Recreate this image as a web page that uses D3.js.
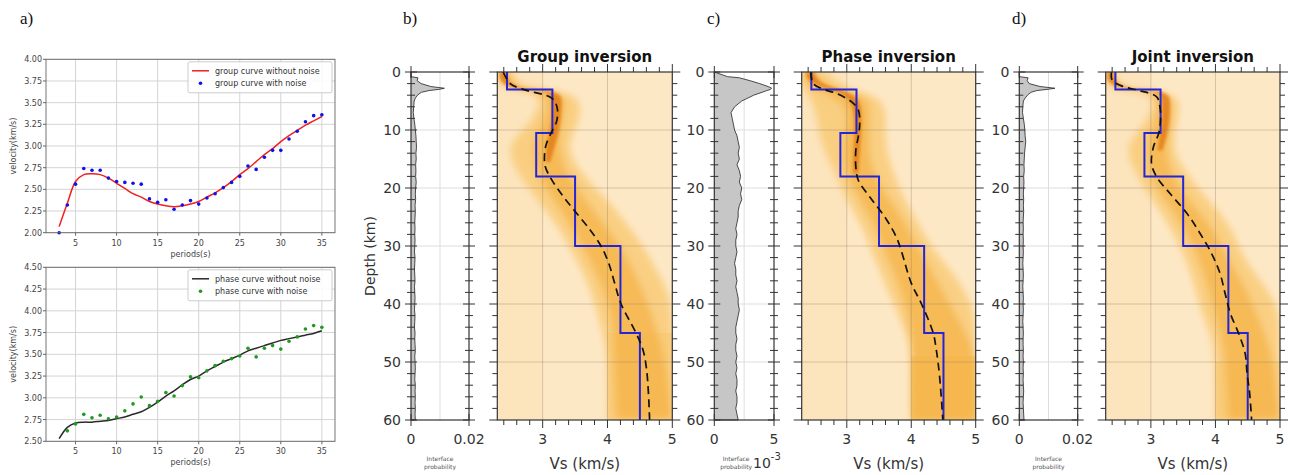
<!DOCTYPE html>
<html>
<head>
<meta charset="utf-8">
<script src="https://cdn.jsdelivr.net/npm/d3@7"></script>
<style>
  body { margin: 0; background: #fff; }
  svg { display: block; font-family: "DejaVu Sans", sans-serif; }
</style>
</head>
<body>
<svg id="chart" width="1296" height="475"></svg>
<script>
// ---- a) dispersion curves ----
const periods = [3,4,5,6,7,8,9,10,11,12,13,14,15,16,17,18,19,20,21,22,23,24,25,26,27,28,29,30,31,32,33,34,35];
const groupClean = [2.07,2.34,2.59,2.67,2.68,2.67,2.63,2.57,2.51,2.45,2.41,2.36,2.33,2.31,2.30,2.31,2.33,2.36,2.41,2.46,2.52,2.59,2.67,2.74,2.82,2.90,2.97,3.05,3.12,3.18,3.24,3.29,3.34];
const groupNoisy = [2.00,2.32,2.56,2.74,2.72,2.72,2.63,2.59,2.58,2.57,2.56,2.39,2.35,2.38,2.27,2.32,2.37,2.33,2.40,2.45,2.52,2.58,2.65,2.77,2.73,2.87,2.95,2.95,3.08,3.17,3.28,3.35,3.36];
const phaseClean = [2.53,2.66,2.71,2.72,2.72,2.73,2.74,2.76,2.78,2.81,2.84,2.89,2.95,3.02,3.08,3.15,3.21,3.25,3.31,3.36,3.41,3.45,3.49,3.54,3.57,3.60,3.63,3.66,3.68,3.70,3.72,3.74,3.77];
const phaseNoisyPeriods = [4,5,6,7,8,9,10,11,12,13,14,15,16,17,18,19,20,21,22,23,24,25,26,27,28,29,30,31,32,33,34,35];
const phaseNoisy = [2.62,2.70,2.81,2.77,2.80,2.76,2.78,2.85,2.93,3.01,2.91,2.96,3.06,3.02,3.14,3.24,3.23,3.31,3.37,3.42,3.45,3.48,3.57,3.47,3.57,3.60,3.56,3.65,3.70,3.79,3.83,3.81];
const periodTicks = [5,10,15,20,25,30,35];
const groupVelTicks = [2.00,2.25,2.50,2.75,3.00,3.25,3.50,3.75,4.00];
const phaseVelTicks = [2.50,2.75,3.00,3.25,3.50,3.75,4.00,4.25,4.50];

// ---- b-d) inversions ----
const layerTop = [0, 3, 10.5, 18, 30, 45];
const layerBottom = [3, 10.5, 18, 30, 45, 60];
const layerVs = [2.45, 3.15, 2.9, 3.5, 4.2, 4.5];

const depthTicks = [0, 10, 20, 30, 40, 50, 60];
const vsTicks = [3, 4, 5];

const groupMeanDepth = [0, 2, 3, 4.5, 6, 8.3, 10.3, 12.3, 14, 16.3, 18.6, 21.5, 24.3, 27.2, 30, 33, 36.4, 40, 45, 48, 51, 55, 60];
const groupMeanVs = [2.39, 2.5, 2.7, 3.14, 3.22, 3.22, 3.14, 3.06, 3.03, 3.04, 3.14, 3.32, 3.52, 3.73, 3.9, 4.02, 4.11, 4.21, 4.44, 4.55, 4.6, 4.63, 4.65];
const phaseMeanDepth = [0, 2, 3, 3.7, 5.2, 6.6, 9, 11, 13.5, 16.4, 18.7, 21.6, 25, 28.5, 31, 36.4, 40, 45, 48, 52.5, 60];
const phaseMeanVs = [2.44, 2.48, 2.64, 2.84, 3.08, 3.18, 3.2, 3.18, 3.14, 3.14, 3.18, 3.36, 3.59, 3.77, 3.85, 4.0, 4.16, 4.34, 4.39, 4.44, 4.49];
const jointMeanDepth = [0, 1.4, 2.5, 3.1, 4.3, 6, 8.3, 10.6, 12.9, 15.8, 18.1, 21, 24.4, 27.8, 31.3, 34.7, 38.2, 41.6, 45.1, 48.5, 52, 55.4, 60];
const jointMeanVs = [2.39, 2.4, 2.57, 2.78, 3.09, 3.14, 3.15, 3.12, 3.04, 3.01, 3.09, 3.3, 3.56, 3.76, 3.94, 4.07, 4.15, 4.23, 4.36, 4.46, 4.49, 4.53, 4.56];

// posterior density bands (depth knots, low / high Vs)
const groupBandDepth = [0, 2.8, 3.4, 6, 9, 12, 15, 18, 21, 24, 27, 30, 34, 38, 42, 46, 50, 60];
const groupWideLo = [2.3, 2.3, 2.95, 2.95, 2.8, 2.5, 2.5, 2.65, 2.85, 3.05, 3.25, 3.4, 3.6, 3.75, 3.85, 3.95, 4.0, 4.0];
const groupWideHi = [2.55, 2.6, 3.5, 3.6, 3.55, 3.4, 3.45, 3.65, 3.9, 4.15, 4.35, 4.55, 4.75, 4.95, 5.0, 5.0, 5.0, 5.0];
const groupMidLo = [2.32, 2.33, 3.05, 3.08, 3.0, 2.85, 2.85, 2.95, 3.1, 3.3, 3.45, 3.6, 3.8, 3.95, 4.05, 4.1, 4.1, 4.15];
const groupMidHi = [2.5, 2.5, 3.35, 3.35, 3.3, 3.25, 3.3, 3.4, 3.6, 3.8, 4.0, 4.2, 4.4, 4.55, 4.7, 4.8, 4.9, 5.0];
const groupCoreDepth = [0, 2.8, 3.2, 5, 8, 10.5, 13, 15.5];
const groupCoreLo = [2.33, 2.35, 3.12, 3.15, 3.15, 3.1, 3.05, 3.05];
const groupCoreHi = [2.45, 2.47, 3.28, 3.3, 3.28, 3.25, 3.18, 3.12];

const phaseBandDepth = [0, 2.5, 4, 6, 9, 12, 15, 18, 21, 24, 27, 30, 34, 38, 42, 46, 49, 60];
const phaseWideLo = [2.3, 2.3, 2.4, 2.5, 2.55, 2.6, 2.7, 2.85, 2.95, 3.1, 3.25, 3.35, 3.5, 3.65, 3.8, 3.95, 4.0, 4.0];
const phaseWideHi = [2.7, 2.9, 3.45, 3.6, 3.6, 3.6, 3.65, 3.75, 3.85, 4.0, 4.15, 4.3, 4.6, 4.85, 5.0, 5.0, 5.0, 5.0];
const phaseMidLo = [2.32, 2.35, 2.75, 3.0, 3.0, 2.95, 2.95, 3.0, 3.15, 3.3, 3.45, 3.55, 3.7, 3.85, 3.95, 4.0, 4.0, 4.0];
const phaseMidHi = [2.55, 2.6, 3.3, 3.35, 3.35, 3.35, 3.35, 3.45, 3.6, 3.8, 3.95, 4.1, 4.3, 4.5, 4.7, 4.9, 5.0, 5.0];
const phaseCoreDepth = [0, 2, 3.5, 5, 8, 11, 14, 17.5];
const phaseCoreLo = [2.36, 2.4, 2.9, 3.08, 3.12, 3.12, 3.1, 3.1];
const phaseCoreHi = [2.5, 2.55, 3.05, 3.22, 3.23, 3.22, 3.2, 3.18];

const jointBandDepth = [0, 3, 3.4, 6, 9, 12, 15, 18, 21, 24, 27, 30, 34, 38, 42, 46, 50, 60];
const jointWideLo = [2.3, 2.3, 3.0, 3.05, 2.9, 2.65, 2.65, 2.8, 2.95, 3.15, 3.3, 3.45, 3.6, 3.7, 3.8, 3.95, 4.0, 4.0];
const jointWideHi = [2.45, 2.5, 3.4, 3.45, 3.4, 3.35, 3.4, 3.6, 3.8, 4.05, 4.25, 4.35, 4.55, 4.85, 5.0, 5.0, 5.0, 5.0];
const jointMidLo = [2.3, 2.32, 3.08, 3.1, 3.05, 2.95, 2.95, 3.0, 3.15, 3.35, 3.5, 3.65, 3.8, 3.9, 4.0, 4.1, 4.15, 4.2];
const jointMidHi = [2.42, 2.45, 3.3, 3.3, 3.3, 3.25, 3.25, 3.35, 3.5, 3.75, 3.95, 4.1, 4.3, 4.5, 4.65, 4.8, 4.9, 5.0];
const jointCoreDepth = [0, 2.9, 3.2, 5, 8, 11, 13.5];
const jointCoreLo = [2.32, 2.33, 3.15, 3.17, 3.18, 3.14, 3.1];
const jointCoreHi = [2.42, 2.45, 3.28, 3.3, 3.3, 3.25, 3.18];

// interface probability profiles
const ifDepth = [0,0.8,1,1.5,2,2.5,2.8,3,3.2,3.5,4,4.5,5,6,7,8,9,10,11,12,13,14,15,16,17,18,19,20,21,22,23,24,25,26,27,28,29,30,31,32,33,34,35,36,37,38,39,40,41,42,43,44,45,46,47,48,49,50,51,52,53,54,55,56,57,58,59,60];
const groupIf = [0,0,0.0024,0.0021,0.0035,0.0068,0.0115,0.0096,0.0062,0.0036,0.0022,0.0015,
  0.0011,0.0009,0.0008,0.0010,0.0013,0.0015,0.0017,0.0018,0.0019,0.0017,
  0.0018,0.0016,0.0017,0.0016,0.0018,0.0016,0.0015,0.0016,0.0014,0.0015,
  0.0014,0.0013,0.0014,0.0013,0.0014,0.0013,0.0012,0.0014,0.0013,0.0012,
  0.0013,0.0014,0.0012,0.0013,0.0014,0.0013,0.0012,0.0014,0.0013,0.0012,
  0.0014,0.0013,0.0014,0.0015,0.0013,0.0014,0.0015,0.0014,0.0013,0.0015,
  0.0014,0.0015,0.0014,0.0015,0.0014,0.0015];
const phaseIf = [0,0.0011,0.0021,0.0030,0.0038,0.0045,0.0048,0.0047,0.0044,0.0040,0.0033,0.0028,
  0.0023,0.0017,0.0014,0.0015,0.0016,0.0017,0.0019,0.0020,0.0021,0.0020,
  0.0021,0.0019,0.0021,0.0022,0.0021,0.0023,0.0022,0.0023,0.0021,0.0020,
  0.0020,0.0019,0.0018,0.0019,0.0018,0.0018,0.0019,0.0018,0.0017,0.0018,
  0.0018,0.0019,0.0018,0.0019,0.0020,0.0020,0.0021,0.0020,0.0019,0.0018,
  0.0018,0.0019,0.0018,0.0018,0.0019,0.0018,0.0019,0.0018,0.0019,0.0019,
  0.0018,0.0019,0.0019,0.0018,0.0019,0.0020];
const jointIf = [0,0,0.0030,0.0027,0.0034,0.0071,0.0122,0.0095,0.0060,0.0040,0.0028,0.0020,
  0.0014,0.0012,0.0011,0.0014,0.0017,0.0019,0.0020,0.0022,0.0020,0.0018,
  0.0017,0.0016,0.0017,0.0015,0.0016,0.0015,0.0014,0.0015,0.0014,0.0015,
  0.0014,0.0013,0.0014,0.0013,0.0014,0.0013,0.0014,0.0013,0.0012,0.0013,
  0.0014,0.0013,0.0012,0.0013,0.0014,0.0013,0.0014,0.0013,0.0012,0.0013,
  0.0014,0.0013,0.0013,0.0014,0.0013,0.0014,0.0013,0.0014,0.0013,0.0014,
  0.0015,0.0014,0.0013,0.0014,0.0015,0.0016];

const svg = d3.select("#chart");
const defs = svg.append("defs");

// ================= panel a =================
const xP = d3.scaleLinear().domain([1.4, 36.6]).range([46, 335]);

function dispersionPlot(o) {
  const y = d3.scaleLinear().domain(o.domain).range([o.bottom, o.top]);
  const g = svg.append("g");

  g.selectAll(".gx").data(periodTicks).enter().append("line")
    .attr("x1", d => xP(d)).attr("x2", d => xP(d))
    .attr("y1", o.top).attr("y2", o.bottom)
    .attr("stroke", "#d4d4d4").attr("stroke-width", 1);
  g.selectAll(".gy").data(o.ticks).enter().append("line")
    .attr("x1", 46).attr("x2", 335)
    .attr("y1", d => y(d)).attr("y2", d => y(d))
    .attr("stroke", "#d4d4d4").attr("stroke-width", 1);

  const line = d3.line().curve(d3.curveCatmullRom)
    .x((d, i) => xP(periods[i])).y(d => y(d));
  g.append("path").datum(o.clean)
    .attr("fill", "none").attr("stroke", o.lineColor).attr("stroke-width", 1.5)
    .attr("d", line);

  g.selectAll(".dot").data(o.noisy).enter().append("circle")
    .attr("cx", (d, i) => xP(o.noisyPeriods[i])).attr("cy", d => y(d))
    .attr("r", 1.8).attr("fill", o.dotColor);

  g.append("rect").attr("x", 46).attr("y", o.top).attr("width", 289).attr("height", o.bottom - o.top)
    .attr("fill", "none").attr("stroke", "#666").attr("stroke-width", 0.9);

  // ticks + labels
  g.selectAll(".tx").data(periodTicks).enter().append("line")
    .attr("x1", d => xP(d)).attr("x2", d => xP(d))
    .attr("y1", o.bottom).attr("y2", o.bottom + 3)
    .attr("stroke", "#666");
  g.selectAll(".lx").data(periodTicks).enter().append("text")
    .attr("x", d => xP(d)).attr("y", o.bottom + 13)
    .attr("text-anchor", "middle").attr("font-size", 8).attr("fill", "#444")
    .text(d => d);
  g.selectAll(".ty").data(o.ticks).enter().append("line")
    .attr("x1", 43).attr("x2", 46)
    .attr("y1", d => y(d)).attr("y2", d => y(d))
    .attr("stroke", "#666");
  g.selectAll(".ly").data(o.ticks).enter().append("text")
    .attr("x", 42).attr("y", d => y(d) + 3)
    .attr("text-anchor", "end").attr("font-size", 8).attr("fill", "#444")
    .text(d => d.toFixed(2));
  g.append("text").attr("x", xP(19)).attr("y", o.bottom + 24)
    .attr("text-anchor", "middle").attr("font-size", 8).attr("fill", "#444")
    .text("periods(s)");
  g.append("text")
    .attr("transform", `translate(16,${(o.top + o.bottom) / 2}) rotate(-90)`)
    .attr("text-anchor", "middle").attr("font-size", 8).attr("fill", "#444")
    .text("velocity(km/s)");

  // legend
  const lg = g.append("g").attr("transform", `translate(188,${o.top + 2.5})`);
  lg.append("rect").attr("width", 144).attr("height", 31).attr("rx", 2)
    .attr("fill", "#fff").attr("fill-opacity", 0.85).attr("stroke", "#ccc");
  lg.append("line").attr("x1", 4).attr("x2", 21).attr("y1", 9).attr("y2", 9)
    .attr("stroke", o.lineColor).attr("stroke-width", 1.5);
  lg.append("text").attr("x", 27).attr("y", 12).attr("font-size", 8).attr("fill", "#333").text(o.labels[0]);
  lg.append("circle").attr("cx", 12.5).attr("cy", 21.5).attr("r", 1.8).attr("fill", o.dotColor);
  lg.append("text").attr("x", 27).attr("y", 24.5).attr("font-size", 8).attr("fill", "#333").text(o.labels[1]);
}

dispersionPlot({
  top: 59.3, bottom: 232.7, domain: [2, 4], ticks: groupVelTicks,
  clean: groupClean, noisy: groupNoisy, noisyPeriods: periods,
  lineColor: "#f02020", dotColor: "#1010e8",
  labels: ["group curve without noise", "group curve with noise"]
});
dispersionPlot({
  top: 267.3, bottom: 441.3, domain: [2.5, 4.5], ticks: phaseVelTicks,
  clean: phaseClean, noisy: phaseNoisy, noisyPeriods: phaseNoisyPeriods,
  lineColor: "#2a2a2a", dotColor: "#1e9a1e",
  labels: ["phase curve without noise", "phase curve with noise"]
});

// ================= panels b-d =================
const yD = d3.scaleLinear().domain([0, 60]).range([72, 420]);
const minorDepth = d3.range(0, 61, 2);
const minorVs = d3.range(2.4, 5.01, 0.2);

defs.append("filter").attr("id", "blurWide")
  .attr("x", "-20%").attr("y", "-20%").attr("width", "140%").attr("height", "140%")
  .append("feGaussianBlur").attr("stdDeviation", 3.5);
defs.append("filter").attr("id", "blurCore")
  .attr("x", "-20%").attr("y", "-20%").attr("width", "140%").attr("height", "140%")
  .append("feGaussianBlur").attr("stdDeviation", 1.8);

const panels = [
  { id: "b", label: "b)", labelX: 403, title: "Group inversion", ifX: [411, 469], ifMax: 0.02, ifTickText: ["0", "0.02"],
    mainX: [497.3, 672.3], prob: groupIf, priorTop: 45, priorOpacity: 0.35,
    bandDepth: groupBandDepth, wideLo: groupWideLo, wideHi: groupWideHi, midLo: groupMidLo, midHi: groupMidHi,
    coreDepth: groupCoreDepth, coreLo: groupCoreLo, coreHi: groupCoreHi,
    meanDepth: groupMeanDepth, meanVs: groupMeanVs },
  { id: "c", label: "c)", labelX: 707, title: "Phase inversion", ifX: [714.3, 774], ifMax: 0.005, ifTickText: ["0", "5"],
    mainX: [801.7, 975.7], prob: phaseIf, priorTop: 49, priorOpacity: 0.6,
    bandDepth: phaseBandDepth, wideLo: phaseWideLo, wideHi: phaseWideHi, midLo: phaseMidLo, midHi: phaseMidHi,
    coreDepth: phaseCoreDepth, coreLo: phaseCoreLo, coreHi: phaseCoreHi,
    meanDepth: phaseMeanDepth, meanVs: phaseMeanVs },
  { id: "d", label: "d)", labelX: 1012, title: "Joint inversion", ifX: [1019.3, 1077.7], ifMax: 0.02, ifTickText: ["0", "0.02"],
    mainX: [1105.7, 1280], prob: jointIf, priorTop: 50, priorOpacity: 0.35,
    bandDepth: jointBandDepth, wideLo: jointWideLo, wideHi: jointWideHi, midLo: jointMidLo, midHi: jointMidHi,
    coreDepth: jointCoreDepth, coreLo: jointCoreLo, coreHi: jointCoreHi,
    meanDepth: jointMeanDepth, meanVs: jointMeanVs }
];

const axisColor = "#333";

function tickLine(g, x1, y1, x2, y2) {
  g.append("line").attr("x1", x1).attr("y1", y1).attr("x2", x2).attr("y2", y2)
    .attr("stroke", axisColor).attr("stroke-width", 1);
}

panels.forEach(p => {
  // ---- interface probability ----
  const xI = d3.scaleLinear().domain([0, p.ifMax]).range(p.ifX);
  const gi = svg.append("g");
  gi.selectAll(".gy").data([10, 20, 30, 40, 50]).enter().append("line")
    .attr("x1", p.ifX[0]).attr("x2", p.ifX[1]).attr("y1", d => yD(d)).attr("y2", d => yD(d))
    .attr("stroke", "#ddd");
  gi.append("line").attr("x1", xI(p.ifMax / 2)).attr("x2", xI(p.ifMax / 2))
    .attr("y1", 72).attr("y2", 420).attr("stroke", "#ddd");

  const prof = d3.zip(ifDepth, p.prob);
  const area = d3.area().y(d => yD(d[0])).x0(xI(0)).x1(d => xI(d[1]));
  gi.append("path").datum(prof).attr("d", area).attr("fill", "#c6c6c6");
  gi.append("path").datum(prof.concat([[60, 0]]))
    .attr("d", d3.line().x(d => xI(d[1])).y(d => yD(d[0])))
    .attr("fill", "none").attr("stroke", "#222").attr("stroke-width", 0.8);

  gi.append("rect").attr("x", p.ifX[0]).attr("y", 72).attr("width", p.ifX[1] - p.ifX[0]).attr("height", 348)
    .attr("fill", "none").attr("stroke", axisColor).attr("stroke-width", 1.2);
  minorDepth.forEach(d => {
    const len = d % 10 === 0 ? 6 : 4;
    tickLine(gi, p.ifX[0] - len, yD(d), p.ifX[0] + len, yD(d));
    tickLine(gi, p.ifX[1] - len, yD(d), p.ifX[1] + len, yD(d));
  });
  [0, p.ifMax].forEach(v => {
    tickLine(gi, xI(v), 66, xI(v), 78);
    tickLine(gi, xI(v), 414, xI(v), 426);
  });
  gi.selectAll(".dl").data(depthTicks).enter().append("text")
    .attr("x", p.ifX[0] - 10).attr("y", d => yD(d)).attr("dy", "0.36em")
    .attr("text-anchor", "end").attr("font-size", 14).attr("fill", axisColor)
    .text(d => d);
  gi.selectAll(".xl").data([0, p.ifMax]).enter().append("text")
    .attr("x", d => xI(d)).attr("y", 444)
    .attr("text-anchor", "middle").attr("font-size", 14).attr("fill", axisColor)
    .text((d, i) => p.ifTickText[i]);
  const ifc = (p.ifX[0] + p.ifX[1]) / 2;
  gi.append("text").attr("x", ifc - (p.id === "c" ? 8 : 0)).attr("y", 461).attr("text-anchor", "middle")
    .attr("font-size", 6).attr("fill", "#555").text("Interface");
  gi.append("text").attr("x", ifc - (p.id === "c" ? 8 : 0)).attr("y", 469).attr("text-anchor", "middle")
    .attr("font-size", 6).attr("fill", "#555").text("probability");
  if (p.id === "c") {
    const off = gi.append("text").attr("x", 753).attr("y", 468).attr("text-anchor", "start")
      .attr("font-size", 14).attr("fill", axisColor);
    off.append("tspan").text("10");
    off.append("tspan").attr("dy", -8).attr("font-size", 10).text("-3");
  }
  if (p.id === "b") {
    gi.append("text").attr("transform", "translate(375,256) rotate(-90)")
      .attr("text-anchor", "middle").attr("font-size", 14).attr("fill", axisColor)
      .text("Depth (km)");
  }

  // ---- posterior panel ----
  const xV = d3.scaleLinear().domain([2.3, 5]).range(p.mainX);
  const w = p.mainX[1] - p.mainX[0];
  const clipId = "clip-" + p.id;
  defs.append("clipPath").attr("id", clipId).append("rect")
    .attr("x", p.mainX[0]).attr("y", 72).attr("width", w).attr("height", 348);
  const gm = svg.append("g").attr("clip-path", `url(#${clipId})`);
  gm.append("rect").attr("x", p.mainX[0]).attr("y", 72).attr("width", w).attr("height", 348)
    .attr("fill", "#fde8c6");
  gm.append("rect").attr("x", xV(2.3)).attr("y", yD(0)).attr("width", xV(3) - xV(2.3)).attr("height", yD(60) - yD(0))
    .attr("fill", "#fbd9a2").attr("opacity", 0.25);
  gm.append("rect").attr("x", xV(4)).attr("y", yD(p.priorTop)).attr("width", xV(5) - xV(4)).attr("height", yD(60) - yD(p.priorTop))
    .attr("fill", "#f4b23e").attr("opacity", p.priorOpacity);

  const band = (xs, lo, hi) => d3.zip(xs, lo, hi);
  const bandArea = d3.area().curve(d3.curveBasis)
    .y(d => yD(d[0])).x0(d => xV(d[1])).x1(d => xV(d[2]));
  const blurG = gm.append("g").attr("filter", "url(#blurWide)");
  blurG.append("path").datum(band(p.bandDepth, p.wideLo, p.wideHi)).attr("d", bandArea)
    .attr("fill", "#f8c76c").attr("opacity", 0.75);
  blurG.append("path").datum(band(p.bandDepth, p.midLo, p.midHi)).attr("d", bandArea)
    .attr("fill", "#f2a935").attr("opacity", 0.55);
  gm.append("path").datum(band(p.coreDepth, p.coreLo, p.coreHi)).attr("d", bandArea)
    .attr("fill", "#e0740e").attr("opacity", 0.75).attr("filter", "url(#blurCore)");

  // grid
  gm.selectAll(".gx").data([3, 4]).enter().append("line")
    .attr("x1", d => xV(d)).attr("x2", d => xV(d)).attr("y1", 72).attr("y2", 420)
    .attr("stroke", "#8a7a66").attr("stroke-opacity", 0.35);
  gm.selectAll(".gy").data([10, 20, 30, 40, 50]).enter().append("line")
    .attr("x1", p.mainX[0]).attr("x2", p.mainX[1]).attr("y1", d => yD(d)).attr("y2", d => yD(d))
    .attr("stroke", "#8a7a66").attr("stroke-opacity", 0.35);

  // true model
  const stepPts = [];
  layerVs.forEach((v, i) => { stepPts.push([v, layerTop[i]]); stepPts.push([v, layerBottom[i]]); });
  gm.append("path").datum(stepPts)
    .attr("d", d3.line().x(d => xV(d[0])).y(d => yD(d[1])))
    .attr("fill", "none").attr("stroke", "#2424d8").attr("stroke-width", 2);

  // mean model
  gm.append("path").datum(d3.zip(p.meanVs, p.meanDepth))
    .attr("d", d3.line().curve(d3.curveCatmullRom).x(d => xV(d[0])).y(d => yD(d[1])))
    .attr("fill", "none").attr("stroke", "#111").attr("stroke-width", 1.7)
    .attr("stroke-dasharray", "8,5");

  // frame + ticks
  const ga = svg.append("g");
  ga.append("rect").attr("x", p.mainX[0]).attr("y", 72).attr("width", w).attr("height", 348)
    .attr("fill", "none").attr("stroke", axisColor).attr("stroke-width", 1.2);
  minorDepth.forEach(d => {
    const len = d % 10 === 0 ? 8 : 5;
    tickLine(ga, p.mainX[0] - len, yD(d), p.mainX[0], yD(d));
    tickLine(ga, p.mainX[1], yD(d), p.mainX[1] + len, yD(d));
  });
  minorVs.forEach(v => {
    const major = Math.abs(v - Math.round(v)) < 1e-6;
    const len = major ? 8 : 5;
    tickLine(ga, xV(v), 72 - len, xV(v), 72);
    tickLine(ga, xV(v), 420, xV(v), 420 + len);
  });
  ga.selectAll(".vl").data(vsTicks).enter().append("text")
    .attr("x", d => xV(d)).attr("y", 444)
    .attr("text-anchor", "middle").attr("font-size", 14).attr("fill", axisColor)
    .text(d => d);
  ga.append("text").attr("x", (p.mainX[0] + p.mainX[1]) / 2).attr("y", 469)
    .attr("text-anchor", "middle").attr("font-size", 15).attr("fill", axisColor)
    .text("Vs (km/s)");
  ga.append("text").attr("x", (p.mainX[0] + p.mainX[1]) / 2).attr("y", 62)
    .attr("text-anchor", "middle").attr("font-size", 15).attr("font-weight", "bold").attr("fill", "#111")
    .text(p.title);

  svg.append("text").attr("x", p.labelX).attr("y", 24)
    .attr("font-family", "'Liberation Serif', serif").attr("font-size", 17).attr("fill", "#111")
    .text(p.label);
});

svg.append("text").attr("x", 20).attr("y", 24)
  .attr("font-family", "'Liberation Serif', serif").attr("font-size", 17).attr("fill", "#111")
  .text("a)");
</script>
</body>
</html>
